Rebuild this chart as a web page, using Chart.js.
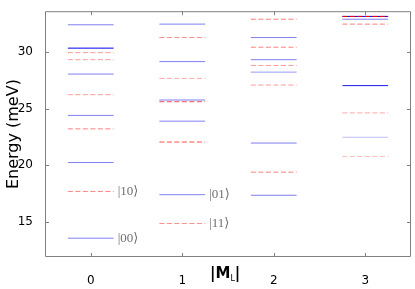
<!DOCTYPE html>
<html>
<head>
<meta charset="utf-8">
<script src="https://cdn.jsdelivr.net/npm/chart.js@4/dist/chart.umd.min.js"></script>
<style>
  body { margin: 0; background: #fff; }
  #wrap { width: 415px; height: 289px; }
</style>
</head>
<body>
<div id="wrap"><canvas id="myChart"></canvas></div>
<script>
// energy levels (meV) for each |M_L|
const mL = [0, 1, 2, 3]
const solidLevels = [
    [32.40, 30.34, 28.05, 24.40, 20.24, 13.56],
    [32.46, 29.15, 25.76, 23.89, 17.40],
    [31.27, 29.32, 28.22, 21.96, 17.35],
    [33.14, 32.89, 27.03, 22.47]
]
const solidWeight = [
    [0.5, 1, 0.5, 0.5, 0.5, 0.5],
    [0.5, 0.5, 0.5, 0.5, 0.5],
    [0.5, 0.5, 0.4, 0.5, 0.5],
    [1, 0.5, 0.9, 0.25]
]
const dashedLevels = [
    [29.94, 29.32, 26.23, 23.21, 17.69],
    [31.27, 27.67, 25.61, 22.05, 14.86],
    [32.89, 30.42, 28.81, 27.08, 19.39],
    [33.14, 32.46, 24.62, 20.77]
]
const dashedWeight = [
    [0.4, 0.4, 0.4, 0.5, 0.5],
    [0.45, 0.35, 0.7, 0.7, 0.45],
    [0.5, 0.5, 0.4, 0.4, 0.5],
    [1, 0.5, 0.35, 0.25]
]
const stateNames = ['|00\u27E9', '|10\u27E9', '|01\u27E9', '|11\u27E9']
const stateM = [0, 0, 1, 1]
const stateE = [13.56, 17.69, 17.40, 14.86]
const yTicks = [15, 20, 25, 30]

const halfWidth = 0.25

function levelDataset(m, e, w, dashed) {
    let color = dashed ? 'rgba(255, 0, 0, ' + w + ')' : 'rgba(0, 0, 230, ' + w + ')'
    return {
        data: [{ x: m - halfWidth, y: e }, { x: m + halfWidth, y: e }],
        borderColor: color,
        borderWidth: 1,
        borderDash: dashed ? [5, 2.5] : [],
        pointRadius: 0,
        fill: false,
        order: dashed ? 0 : 1
    }
}

let datasets = []
for (let i = 0; i < mL.length; i++) {
    for (let j = 0; j < solidLevels[i].length; j++) {
        datasets.push(levelDataset(mL[i], solidLevels[i][j], solidWeight[i][j], false))
    }
    for (let j = 0; j < dashedLevels[i].length; j++) {
        datasets.push(levelDataset(mL[i], dashedLevels[i][j], dashedWeight[i][j], true))
    }
}

const framePlugin = {
    id: 'frame',
    afterDraw(chart) {
        const ctx = chart.ctx
        const a = chart.chartArea
        const xs = chart.scales.x
        const ys = chart.scales.y
        ctx.save()
        ctx.strokeStyle = '#808080'
        ctx.lineWidth = 1
        ctx.beginPath()
        ctx.rect(a.left + 0.5, a.top + 0.5, a.right - a.left - 1, a.bottom - a.top - 1)
        // inward ticks
        mL.forEach(v => {
            const px = Math.round(xs.getPixelForValue(v)) + 0.5
            ctx.moveTo(px, a.bottom); ctx.lineTo(px, a.bottom - 4)
            ctx.moveTo(px, a.top); ctx.lineTo(px, a.top + 4)
        })
        yTicks.forEach(v => {
            const py = Math.round(ys.getPixelForValue(v)) + 0.5
            ctx.moveTo(a.left, py); ctx.lineTo(a.left + 4, py)
            ctx.moveTo(a.right, py); ctx.lineTo(a.right - 4, py)
        })
        ctx.stroke()

        // state labels
        ctx.fillStyle = '#707070'
        ctx.font = '13px "Liberation Serif", "DejaVu Serif", serif'
        ctx.textBaseline = 'middle'
        ctx.textAlign = 'left'
        for (let i = 0; i < stateNames.length; i++) {
            ctx.fillText(stateNames[i], xs.getPixelForValue(stateM[i] + halfWidth) + 4, ys.getPixelForValue(stateE[i]))
        }

        // y axis title
        ctx.fillStyle = '#000'
        ctx.font = '16px "DejaVu Sans", sans-serif'
        ctx.textAlign = 'center'
        ctx.save()
        ctx.translate(14, (a.top + a.bottom) / 2)
        ctx.rotate(-Math.PI / 2)
        ctx.fillText('Energy (meV)', 0, 0)
        ctx.restore()

        // x axis title |M_L|
        const tx = (a.left + a.right) / 2 - 18
        const ty = 274
        ctx.textAlign = 'left'
        ctx.font = 'bold 15px "DejaVu Sans", sans-serif'
        ctx.fillText('|M', tx, ty)
        let w = ctx.measureText('|M').width
        ctx.font = '8px "DejaVu Sans", sans-serif'
        ctx.fillText('L', tx + w, ty + 5)
        w += ctx.measureText('L').width
        ctx.font = 'bold 15px "DejaVu Sans", sans-serif'
        ctx.fillText('|', tx + w, ty)
        ctx.restore()
    }
}

const chartConfig = {
    type: 'line',
    data: { datasets: datasets },
    options: {
        responsive: true,
        maintainAspectRatio: false,
        animation: false,
        layout: { padding: { top: 1, right: 4, left: 0, bottom: 0 } },
        plugins: {
            legend: { display: false },
            tooltip: { enabled: false }
        },
        scales: {
            x: {
                type: 'linear',
                min: -0.5,
                max: 3.5,
                afterBuildTicks: s => { s.ticks = mL.map(v => ({ value: v })) },
                afterFit: s => { s.height = 32 },
                grid: { display: false },
                border: { display: false },
                ticks: {
                    color: '#000',
                    padding: 9,
                    maxRotation: 0,
                    font: { family: 'DejaVu Sans', size: 12 }
                }
            },
            y: {
                type: 'linear',
                min: 11.9,
                max: 33.6,
                afterBuildTicks: s => { s.ticks = yTicks.map(v => ({ value: v })) },
                afterFit: s => { s.width = 45 },
                grid: { display: false },
                border: { display: false },
                ticks: {
                    color: '#000',
                    padding: 4,
                    font: { family: 'DejaVu Sans', size: 12 }
                }
            }
        }
    },
    plugins: [framePlugin]
}

new Chart(document.getElementById('myChart'), chartConfig)
</script>
</body>
</html>
